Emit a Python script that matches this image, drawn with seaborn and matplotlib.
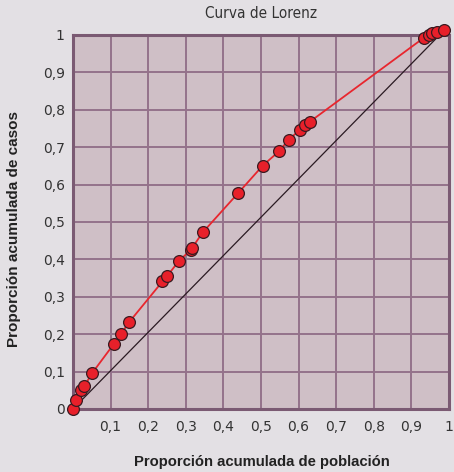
import numpy as np
import pandas as pd
import matplotlib
matplotlib.use("Agg")
import matplotlib.pyplot as plt
import seaborn as sns

# Lorenz curve data
poblacion = [0.0, 0.008, 0.021, 0.030, 0.051, 0.108, 0.127, 0.150, 0.238, 0.250,
             0.282, 0.314, 0.317, 0.345, 0.440, 0.505, 0.548, 0.574, 0.603, 0.616,
             0.630, 0.934, 0.946, 0.956, 0.967, 0.987]
casos = [0.0, 0.024, 0.052, 0.061, 0.096, 0.173, 0.200, 0.233, 0.341, 0.355,
         0.396, 0.426, 0.431, 0.472, 0.578, 0.651, 0.689, 0.720, 0.746, 0.758,
         0.768, 0.993, 0.999, 1.004, 1.009, 1.012]

x_ticks = [0.1, 0.2, 0.3, 0.4, 0.5, 0.6, 0.7, 0.8, 0.9, 1.0]
x_labels = ["0,1", "0,2", "0,3", "0,4", "0,5", "0,6", "0,7", "0,8", "0,9", "1"]
y_ticks = [0, 0.1, 0.2, 0.3, 0.4, 0.5, 0.6, 0.7, 0.8, 0.9, 1.0]
y_labels = ["0", "0,1", "0,2", "0,3", "0,4", "0,5", "0,6", "0,7", "0,8", "0,9", "1"]

df = pd.DataFrame({"poblacion": poblacion, "casos": casos})

sns.set_style("white")
plt.rcParams["font.family"] = ["Liberation Sans", "DejaVu Sans"]

bg = "#e3e0e4"
face = "#cfbfc6"
dark = "#7b5a73"
gridc = "#94728b"

fig = plt.figure(figsize=(4.54, 4.72), dpi=100, facecolor=bg)
ax = fig.add_axes([0.1608, 0.1335, 0.828, 0.7924])
ax.set_facecolor(face)

# equality line
ax.plot([0, poblacion[-1]], [0, casos[-1]], color="#2a1a22", lw=0.9, zorder=2, clip_on=False)

sns.lineplot(
    x="poblacion",
    y="casos",
    data=df,
    color="#e8262e",
    lw=1.3,
    marker="o",
    markersize=8.5,
    markerfacecolor="#e8202a",
    markeredgecolor="#3a1a20",
    markeredgewidth=0.9,
    sort=False,
    ax=ax,
    zorder=3,
    clip_on=False,
)

ax.set_xlim(0, 1)
ax.set_ylim(0, 1)
ax.set_xticks(x_ticks)
ax.set_xticklabels(x_labels, family="DejaVu Sans")
ax.set_yticks(y_ticks)
ax.set_yticklabels(y_labels, family="DejaVu Sans")

ax.grid(True, color=gridc, lw=1.4)
ax.set_axisbelow(True)

for s in ax.spines.values():
    s.set_color(dark)
    s.set_linewidth(2.2)

ax.tick_params(axis="both", direction="out", color=dark, width=1.4, labelsize=10,
               labelcolor="#333333")
ax.tick_params(axis="y", length=4.5, pad=1.5)
ax.tick_params(axis="x", length=3, pad=5)

ax.set_xlabel("Proporción acumulada de población", fontsize=10.7, fontweight="bold",
              color="#222222")
ax.set_ylabel("Proporción acumulada de casos", fontsize=11, fontweight="bold",
              color="#222222")
ax.xaxis.set_label_coords(0.503, -0.142)
ax.xaxis.label.set_va("center")
ax.yaxis.set_label_coords(-0.156, 0.48)
ax.yaxis.label.set_va("center")

fig.text(0.574, 0.971, "Curva de Lorenz", ha="center", va="center", fontsize=11,
         color="#333333", family="DejaVu Sans", fontstretch="condensed")

plt.savefig("out.png", dpi=100, facecolor=bg)
